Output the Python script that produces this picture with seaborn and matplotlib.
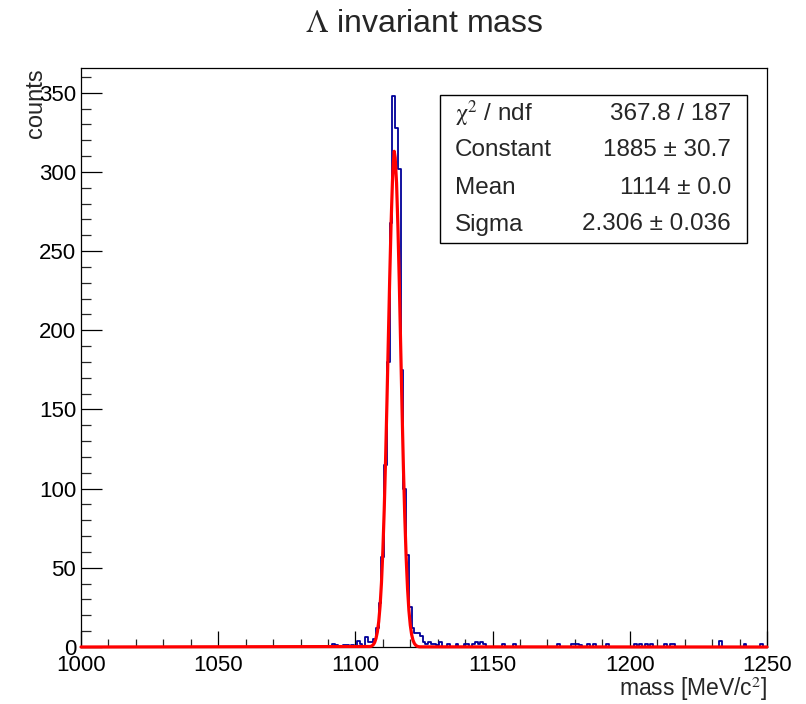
import numpy as np
import pandas as pd
import matplotlib
matplotlib.use("Agg")
import matplotlib.pyplot as plt
import seaborn as sns
from matplotlib.patches import Rectangle
from matplotlib.ticker import MultipleLocator

# ---- data (1 MeV bins, given by bin centre) ----
bin_center = [1092, 1093, 1096, 1097, 1099, 1101, 1102, 1104, 1105, 1106, 1107, 1108,
              1109, 1110, 1111, 1112, 1113, 1114, 1115, 1116, 1117, 1118, 1119, 1120,
              1121, 1122, 1123, 1124, 1125, 1126, 1127, 1128, 1129, 1130, 1131, 1134,
              1137, 1140, 1141, 1143, 1144, 1145, 1146, 1147, 1154, 1158, 1174, 1179,
              1180, 1181, 1182, 1185, 1187, 1192, 1202, 1204, 1206, 1208, 1213, 1215,
              1216, 1233, 1242, 1248]
counts = [2, 1, 1, 1, 1, 4, 2, 6, 3, 3, 5, 12,
          28, 57, 115, 180, 268, 348, 328, 302, 175, 100, 58, 25,
          12, 9, 9, 7, 3, 2, 3, 2, 2, 1, 3, 2,
          2, 2, 2, 2, 3, 2, 3, 2, 2, 2, 2, 2,
          2, 2, 1, 2, 2, 2, 2, 2, 2, 2, 2, 2,
          2, 4, 2, 2]

fit_x = [1000, 1105.5, 1106.0, 1106.5, 1107.0, 1107.5, 1108.0, 1108.5, 1109.0, 1109.5,
         1110.0, 1110.5, 1111.0, 1111.5, 1112.0, 1112.5, 1113.0, 1113.5, 1113.8, 1114.15,
         1114.5, 1115.0, 1115.5, 1116.0, 1116.5, 1117.0, 1117.5, 1118.0, 1118.5, 1119.0,
         1119.5, 1120.0, 1120.5, 1121.0, 1121.5, 1122.0, 1122.5, 1123.0, 1123.5, 1250]
fit_y = [0, 0.3, 0.7, 1.4, 2.8, 5.4, 9.5, 16.0, 26.0, 40.5,
         60.5, 86.5, 118.5, 155.0, 194.0, 232.5, 267.0, 294.0, 305.0, 313.0,
         309.0, 293.0, 265.0, 230.0, 190.0, 150.0, 113.0, 82.0, 56.5, 37.0,
         23.0, 13.8, 7.8, 4.2, 2.2, 1.1, 0.5, 0.2, 0.1, 0]

stat_names = [r"$\mathrm{\chi}^{2}$ / ndf", "Constant", "Mean", "Sigma"]
stat_values = ["367.8 / 187", "1885 ± 30.7", "1114 ± 0.0", "2.306 ± 0.036"]

x_range = (1000, 1250)
y_max = 365.4

hist_df = pd.DataFrame({"mass": np.array(bin_center, dtype=float),
                        "w": np.array(counts, dtype=float)})
fit_df = pd.DataFrame({"mass": fit_x, "val": fit_y})

# ---- plot ----
sns.set_style("white")
plt.rcParams["font.family"] = ["Liberation Sans", "DejaVu Sans"]
plt.rcParams["mathtext.fontset"] = "stix"

fig = plt.figure(figsize=(8.06, 7.04), dpi=100)
ax = fig.add_axes([81 / 806, 1 - 647 / 704, 686 / 806, (647 - 68.3) / 704])

sns.histplot(data=hist_df, x="mass", weights="w",
             binwidth=1, binrange=(x_range[0] - 0.5, x_range[1] + 0.5),
             element="step", fill=False, color="#000099", linewidth=1.3, ax=ax)
sns.lineplot(data=fit_df, x="mass", y="val", color="#ff0000", linewidth=2.3, ax=ax,
             estimator=None, sort=False)
ax.lines[-1].set_clip_on(False)
ax.lines[-1].set_zorder(5)

ax.set_xlim(*x_range)
ax.set_ylim(0, y_max)

for s in ax.spines.values():
    s.set_color("black")
    s.set_linewidth(0.9)
    s.set_visible(True)

ax.xaxis.set_major_locator(MultipleLocator(50))
ax.xaxis.set_minor_locator(MultipleLocator(10))
ax.yaxis.set_major_locator(MultipleLocator(50))
ax.yaxis.set_minor_locator(MultipleLocator(10))
ax.tick_params(axis="x", which="major", direction="in", length=11.5, width=0.9,
               labelsize=16, pad=5.5, top=False, bottom=True, colors="black")
ax.tick_params(axis="x", which="minor", direction="in", length=5.5, width=0.9,
               top=False, bottom=True)
ax.tick_params(axis="y", which="major", direction="in", length=15, width=0.9,
               labelsize=16, pad=3.5, left=True, right=False, colors="black")
ax.tick_params(axis="y", which="minor", direction="in", length=7.5, width=0.9,
               left=True, right=False)

ax.set_title(r"$\Lambda$ invariant mass", fontsize=23, pad=26)
ax.set_xlabel(r"mass [MeV/c$^{2}$]", fontsize=16.5, loc="right")
ax.xaxis.set_label_coords(1.0, -0.0475)
ax.set_ylabel("counts", fontsize=17, loc="top")
ax.yaxis.set_label_coords(-0.05, 1.0)

# stats box
bx0 = (440 - 81) / 686
bx1 = (747 - 81) / 686
by1 = (647 - 95) / 578.7
by0 = (647 - 243) / 578.7
ax.add_patch(Rectangle((bx0, by0), bx1 - bx0, by1 - by0, transform=ax.transAxes,
                       facecolor="white", edgecolor="black", linewidth=1.0, zorder=10))
row_h = (by1 - by0) / len(stat_names)
for i, (n, v) in enumerate(zip(stat_names, stat_values)):
    yy = by1 - row_h * (i + 0.5)
    ax.text((455 - 81) / 686, yy, n, transform=ax.transAxes, ha="left", va="center",
            fontsize=17.5, zorder=11)
    ax.text((731 - 81) / 686, yy, v, transform=ax.transAxes, ha="right", va="center",
            fontsize=17.5, zorder=11)

fig.savefig("out.png", dpi=100)
